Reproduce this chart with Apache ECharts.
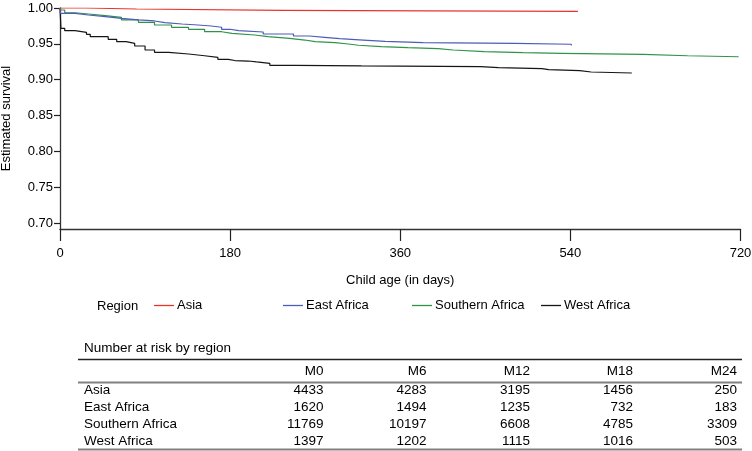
<!DOCTYPE html>
<html>
<head>
<meta charset="utf-8">
<script src="https://cdn.jsdelivr.net/npm/echarts@6/dist/echarts.min.js"></script>
<style>
html,body{margin:0;padding:0;background:#fff;}
#chart{width:752px;height:451px;}
</style>
</head>
<body>
<div id="chart"></div>
<script>
// ---- Data ----
const regions = ['Asia', 'East Africa', 'Southern Africa', 'West Africa'];
const colors = ['#e8352b', '#4d5cb8', '#2f9448', '#151515'];

const asiaDays = [0, 27, 81, 236, 548];
const asiaSurv = [1.0, 0.9986, 0.9968, 0.9954, 0.9954];

const eastDays = [0, 0.5, 16, 30, 48, 65, 83, 100, 111, 129, 146, 160, 171, 180, 189, 215, 247, 264, 280, 296, 321, 344, 384, 481, 541];
const eastSurv = [1.0, 0.9926, 0.9902, 0.9879, 0.9856, 0.9833, 0.9819, 0.9795, 0.9777, 0.9763, 0.9749, 0.9731, 0.9703, 0.9683, 0.9665, 0.9637, 0.9609, 0.9591, 0.9572, 0.9553, 0.9535, 0.9516, 0.9507, 0.9494, 0.9478];

const southDays = [0, 0.5, 5, 16, 30, 48, 65, 83, 100, 118, 136, 153, 171, 182, 206, 220, 243, 259, 270, 291, 305, 316, 340, 368, 400, 416, 449, 490, 531, 617, 664, 718];
const southSurv = [1.0, 0.9972, 0.9934, 0.9916, 0.9893, 0.9870, 0.9833, 0.9800, 0.9763, 0.9731, 0.9703, 0.9669, 0.9647, 0.9623, 0.9600, 0.9577, 0.9553, 0.9530, 0.9516, 0.9498, 0.9480, 0.9460, 0.9446, 0.9432, 0.9414, 0.9390, 0.9376, 0.9368, 0.9354, 0.9334, 0.9320, 0.9320];

const westDays = [0, 1, 5, 16, 28, 32, 51, 60, 70, 79, 90, 100, 115, 136, 153, 167, 178, 185, 199, 208, 222, 249, 319, 445, 464, 510, 517, 550, 562, 605];
const westSurv = [1.0, 0.9717, 0.9683, 0.9661, 0.9633, 0.9600, 0.9563, 0.9530, 0.9507, 0.9470, 0.9414, 0.9382, 0.9358, 0.9334, 0.9312, 0.9284, 0.9267, 0.9260, 0.9247, 0.9228, 0.9200, 0.9191, 0.9181, 0.9167, 0.9153, 0.9139, 0.9125, 0.9107, 0.9093, 0.9093];

const xTicks = [0, 180, 360, 540, 720];
const yTicks = [0.70, 0.75, 0.80, 0.85, 0.90, 0.95, 1.00];

const tableCols = ['M0', 'M6', 'M12', 'M18', 'M24'];
const atRiskAsia = [4433, 4283, 3195, 1456, 250];
const atRiskEast = [1620, 1494, 1235, 732, 183];
const atRiskSouth = [11769, 10197, 6608, 4785, 3309];
const atRiskWest = [1397, 1202, 1115, 1016, 503];

// ---- Build ----
const FONT = "'Liberation Sans', Arial, sans-serif";
const pairs = (d, s) => d.map((v, i) => [v, s[i]]);
const seriesData = [pairs(asiaDays, asiaSurv), pairs(eastDays, eastSurv), pairs(southDays, southSurv), pairs(westDays, westSurv)];
const atRisk = [atRiskAsia, atRiskEast, atRiskSouth, atRiskWest];

const series = regions.map((name, i) => ({
  name: name,
  type: 'line',
  step: 'end',
  data: seriesData[i],
  showSymbol: false,
  symbol: 'none',
  lineStyle: { color: colors[i], width: 1.2 },
  itemStyle: { color: colors[i] },
  emphasis: { disabled: true },
  z: 10 - i
}));

const legendLeft = [154, 283, 412, 541];
const legends = regions.map((name, i) => ({
  data: [name],
  left: legendLeft[i],
  top: 299,
  icon: 'rect',
  itemWidth: 20,
  itemHeight: 1.3,
  selectedMode: false,
  padding: 0,
  textStyle: { fontFamily: FONT, fontSize: 13, color: '#000', padding: [0, 0, 0, -2] }
}));

// table graphics
const graphics = [];
graphics.push({ type: 'text', left: 97, top: 300, style: { text: 'Region', font: '13px ' + FONT, fill: '#000' } });
graphics.push({ type: 'text', left: 84, top: 341, style: { text: 'Number at risk by region', font: '13.5px ' + FONT, fill: '#000' } });
graphics.push({ type: 'line', shape: { x1: 78, y1: 359.5, x2: 742, y2: 359.5 }, style: { stroke: '#222', lineWidth: 1.3 } });
graphics.push({ type: 'line', shape: { x1: 78, y1: 382.5, x2: 742, y2: 382.5 }, style: { stroke: '#808080', lineWidth: 2 } });
graphics.push({ type: 'line', shape: { x1: 78, y1: 449.5, x2: 742, y2: 449.5 }, style: { stroke: '#808080', lineWidth: 2 } });
const colRight = [323.5, 426.5, 530, 633, 737];
const rowY = [390, 407.3, 424.3, 441.7];
tableCols.forEach((c, j) => {
  graphics.push({ type: 'text', x: colRight[j], y: 371, style: { text: c, font: '13.5px ' + FONT, fill: '#000', textAlign: 'right', textVerticalAlign: 'middle' } });
});
regions.forEach((r, i) => {
  graphics.push({ type: 'text', x: 84, y: rowY[i], style: { text: r, font: '13.5px ' + FONT, fill: '#000', textAlign: 'left', textVerticalAlign: 'middle' } });
  atRisk[i].forEach((v, j) => {
    graphics.push({ type: 'text', x: colRight[j], y: rowY[i], style: { text: String(v), font: '13.5px ' + FONT, fill: '#000', textAlign: 'right', textVerticalAlign: 'middle' } });
  });
});

const chart = echarts.init(document.getElementById('chart'), null, { renderer: 'canvas' });
chart.setOption({
  animation: false,
  backgroundColor: '#fff',
  grid: { left: 60, right: 11.5, top: 8, bottom: 222, containLabel: false, outerBoundsMode: 'none' },
  xAxis: {
    type: 'value',
    min: 0, max: 720, interval: 180,
    name: 'Child age (in days)',
    nameLocation: 'middle',
    nameGap: 45,
    nameTextStyle: { fontFamily: FONT, fontSize: 13, color: '#000' },
    axisLine: { show: true, onZero: false, lineStyle: { color: '#333', width: 1.3 } },
    axisTick: { show: true, length: 12, lineStyle: { color: '#222', width: 1.2 }, customValues: xTicks },
    axisLabel: { fontFamily: FONT, fontSize: 13, color: '#000', margin: 18, customValues: xTicks },
    splitLine: { show: false }
  },
  yAxis: {
    type: 'value',
    min: 0.6916, max: 1.0,
    name: 'Estimated survival',
    nameLocation: 'middle',
    nameGap: 47,
    nameTextStyle: { fontFamily: FONT, fontSize: 13, color: '#000' },
    axisLine: { show: true, onZero: false, lineStyle: { color: '#333', width: 1.3 } },
    axisTick: { show: true, length: 6, lineStyle: { color: '#222', width: 1.2 }, customValues: yTicks },
    axisLabel: { fontFamily: FONT, fontSize: 13, color: '#000', margin: 7, customValues: yTicks, formatter: v => v.toFixed(2) },
    splitLine: { show: false }
  },
  legend: legends,
  series: series,
  graphic: graphics
});
</script>
</body>
</html>
